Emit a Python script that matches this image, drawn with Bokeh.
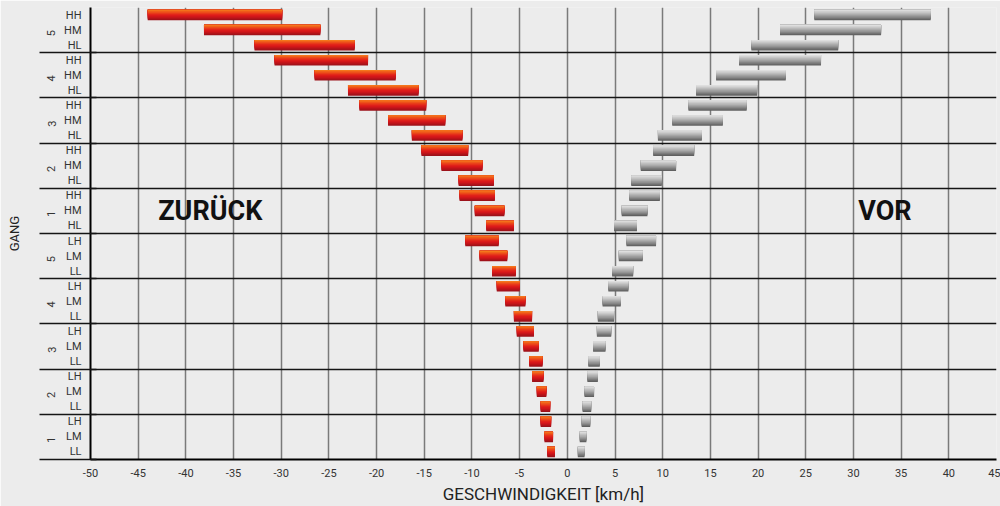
import math
from bokeh.plotting import figure
from bokeh.models import Range1d, FixedTicker, LinearAxis, ColumnDataSource
from bokeh.core.properties import value
from bokeh.embed import file_html
from bokeh.resources import INLINE

# ---------------- data (rows listed top to bottom) ----------------
gears = ["5", "5", "5", "4", "4", "4", "3", "3", "3", "2", "2", "2", "1", "1", "1",
         "5", "5", "5", "4", "4", "4", "3", "3", "3", "2", "2", "2", "1", "1", "1"]
subs = ["HH", "HM", "HL", "HH", "HM", "HL", "HH", "HM", "HL", "HH", "HM", "HL", "HH", "HM", "HL",
        "LH", "LM", "LL", "LH", "LM", "LL", "LH", "LM", "LL", "LH", "LM", "LL", "LH", "LM", "LL"]

# reverse (ZURÜCK) speed ranges, km/h
rev_lo = [-44.0, -38.1, -32.8, -30.7, -26.5, -23.0, -21.8, -18.8, -16.3, -15.3, -13.2, -11.4,
          -11.3, -9.7, -8.5, -10.7, -9.2, -7.9, -7.4, -6.5, -5.6, -5.3, -4.6, -4.0, -3.7, -3.2,
          -2.8, -2.8, -2.4, -2.1]
rev_hi = [-29.9, -25.9, -22.3, -20.9, -18.0, -15.6, -14.8, -12.8, -11.0, -10.4, -8.9, -7.7,
          -7.6, -6.6, -5.6, -7.2, -6.3, -5.4, -5.0, -4.4, -3.7, -3.5, -3.0, -2.6, -2.5, -2.2,
          -1.8, -1.7, -1.5, -1.3]
# forward (VOR) speed ranges, km/h
fwd_lo = [25.9, 22.3, 19.3, 18.0, 15.6, 13.5, 12.7, 11.0, 9.5, 9.0, 7.7, 6.7, 6.5, 5.7, 4.9,
          6.2, 5.4, 4.7, 4.3, 3.7, 3.2, 3.1, 2.7, 2.2, 2.1, 1.8, 1.6, 1.5, 1.3, 1.1]
fwd_hi = [38.1, 32.9, 28.4, 26.6, 22.9, 19.9, 18.8, 16.3, 14.1, 13.3, 11.4, 9.9, 9.7, 8.4, 7.3,
          9.3, 7.9, 6.9, 6.4, 5.6, 4.9, 4.6, 4.0, 3.4, 3.2, 2.8, 2.5, 2.4, 2.0, 1.8]

x_ticks = [-50, -45, -40, -35, -30, -25, -20, -15, -10, -5, 0, 5, 10, 15, 20, 25, 30, 35, 40, 45]
x_tick_labels = ["-50", "-45", "-40", "-35", "-30", "-25", "-20", "-15", "-10", "-5",
                 "0", "5", "10", "15", "20", "25", "30", "35", "40", "45"]

notes = ["ZURÜCK", "VOR"]
note_x = [-42.9, 30.5]
note_row = ("1", "HM")

# gradient colours, top to bottom
red_shades = ["#f4761c", "#f0601a", "#ec4c1a", "#e8381a", "#e2261a", "#dc1a1a",
              "#d0161a", "#c0141a", "#ae131a", "#9c121a"]
grey_shades = ["#dedede", "#d2d2d2", "#c6c6c6", "#b9b9b9", "#acacac", "#9e9e9e",
               "#909090", "#808080", "#707070", "#606060"]

BG = "#ececec"
FONT = "Roboto"

# ---------------- derived positions ----------------
n = len(subs)
ypos = [n - 1 - i for i in range(n)]

# groups: consecutive runs of same gear + range letter
keys = [g + s[0] for g, s in zip(gears, subs)]
runs = []
start = 0
for i in range(1, n + 1):
    if i == n or keys[i] != keys[start]:
        runs.append((start, i - 1))
        start = i
boundaries = [ypos[b] - 0.5 for (_, b) in runs]     # lower edge of each group
group_centers = [(ypos[a] + ypos[b]) / 2 for (a, b) in runs]
group_labels = [gears[a] for (a, _) in runs]

p = figure(width=1000, height=506, output_backend="svg", toolbar_location=None,
           x_range=Range1d(x_ticks[0], x_ticks[-1]), y_range=Range1d(-0.5, n - 0.5),
           min_border_left=90, min_border_right=4, min_border_top=7, min_border_bottom=0)
p.background_fill_color = BG
p.border_fill_color = BG
p.outline_line_color = None

# bars: layered (top-anchored) slices to give a vertical gradient
bar_h = 0.7
k = len(red_shades)
for m in range(k):
    hm = bar_h * (k - m) / k
    off = bar_h / 2 - hm / 2
    src = ColumnDataSource(dict(y=[y + off for y in ypos], rl=rev_lo, rh=rev_hi,
                                fl=fwd_lo, fh=fwd_hi))
    p.hbar(y="y", left="rl", right="rh", height=hm, source=src,
           fill_color=red_shades[k - 1 - m], line_color=None)
    p.hbar(y="y", left="fl", right="fh", height=hm, source=src,
           fill_color=grey_shades[k - 1 - m], line_color=None)

# labels ZURÜCK / VOR
ny = ypos[[i for i in range(n) if (gears[i], subs[i]) == note_row][0]]
p.text(x=note_x, y=[ny] * len(notes), text=notes, text_font=value(FONT),
       text_font_style="bold", text_font_size="27px", text_color="#111111",
       text_align="left", text_baseline="middle")

# grids
p.xgrid.ticker = FixedTicker(ticks=x_ticks)
p.xgrid.grid_line_color = "#7a7a7a"
p.xgrid.grid_line_width = 1.5
p.ygrid.ticker = FixedTicker(ticks=boundaries)
p.ygrid.grid_line_color = "#151515"
p.ygrid.grid_line_width = 1.5

# x axis
xa = p.xaxis[0]
xa.ticker = FixedTicker(ticks=x_ticks)
xa.major_label_overrides = {t: s for t, s in zip(x_ticks, x_tick_labels)}
xa.axis_label = "GESCHWINDIGKEIT [km/h]"
xa.axis_label_text_font = FONT
xa.axis_label_text_font_style = "normal"
xa.axis_label_text_font_size = "17px"
xa.axis_label_text_color = "#222222"
xa.axis_label_standoff = 4
xa.major_label_text_font = FONT
xa.major_label_text_font_size = "11px"
xa.major_label_text_color = "#333333"
xa.major_label_standoff = 9
xa.major_tick_line_color = None
xa.major_tick_out = 0
xa.minor_tick_line_color = None
xa.minor_tick_out = 0
xa.axis_line_color = "#000000"
xa.axis_line_width = 2

# inner y axis: sub labels
ya = p.left[0]
ya.ticker = FixedTicker(ticks=ypos)
ya.major_label_overrides = {y: s for y, s in zip(ypos, subs)}
ya.major_label_text_font = FONT
ya.major_label_text_font_size = "11px"
ya.major_label_text_color = "#333333"
ya.major_label_standoff = 9
ya.major_tick_line_color = None
ya.major_tick_out = 0
ya.minor_tick_line_color = None
ya.minor_tick_out = 0
ya.axis_line_color = "#000000"
ya.axis_line_width = 2

# middle y axis: gear numbers
ga = LinearAxis(ticker=FixedTicker(ticks=group_centers),
                major_label_overrides={c: g for c, g in zip(group_centers, group_labels)})
ga.major_label_orientation = math.pi / 2
ga.major_label_text_font = FONT
ga.major_label_text_font_size = "11px"
ga.major_label_text_color = "#333333"
ga.major_label_standoff = 10
ga.major_tick_line_color = None
ga.major_tick_out = 0
ga.minor_tick_line_color = None
ga.minor_tick_out = 0
ga.axis_line_color = None
p.add_layout(ga, "left")

# outer y axis: group separators reaching across the label area + axis title
sa = LinearAxis(ticker=FixedTicker(ticks=[], minor_ticks=boundaries))
sa.major_tick_line_color = None
sa.major_tick_out = 0
sa.minor_tick_line_color = "#151515"
sa.minor_tick_line_width = 1.5
sa.minor_tick_in = 56
sa.minor_tick_out = 1
sa.axis_line_color = None
sa.axis_label = "GANG"
sa.axis_label_text_font = FONT
sa.axis_label_text_font_style = "normal"
sa.axis_label_text_font_size = "13px"
sa.axis_label_text_color = "#222222"
sa.axis_label_standoff = 18
p.add_layout(sa, "left")

open("out.html", "w").write(file_html(p, INLINE))
